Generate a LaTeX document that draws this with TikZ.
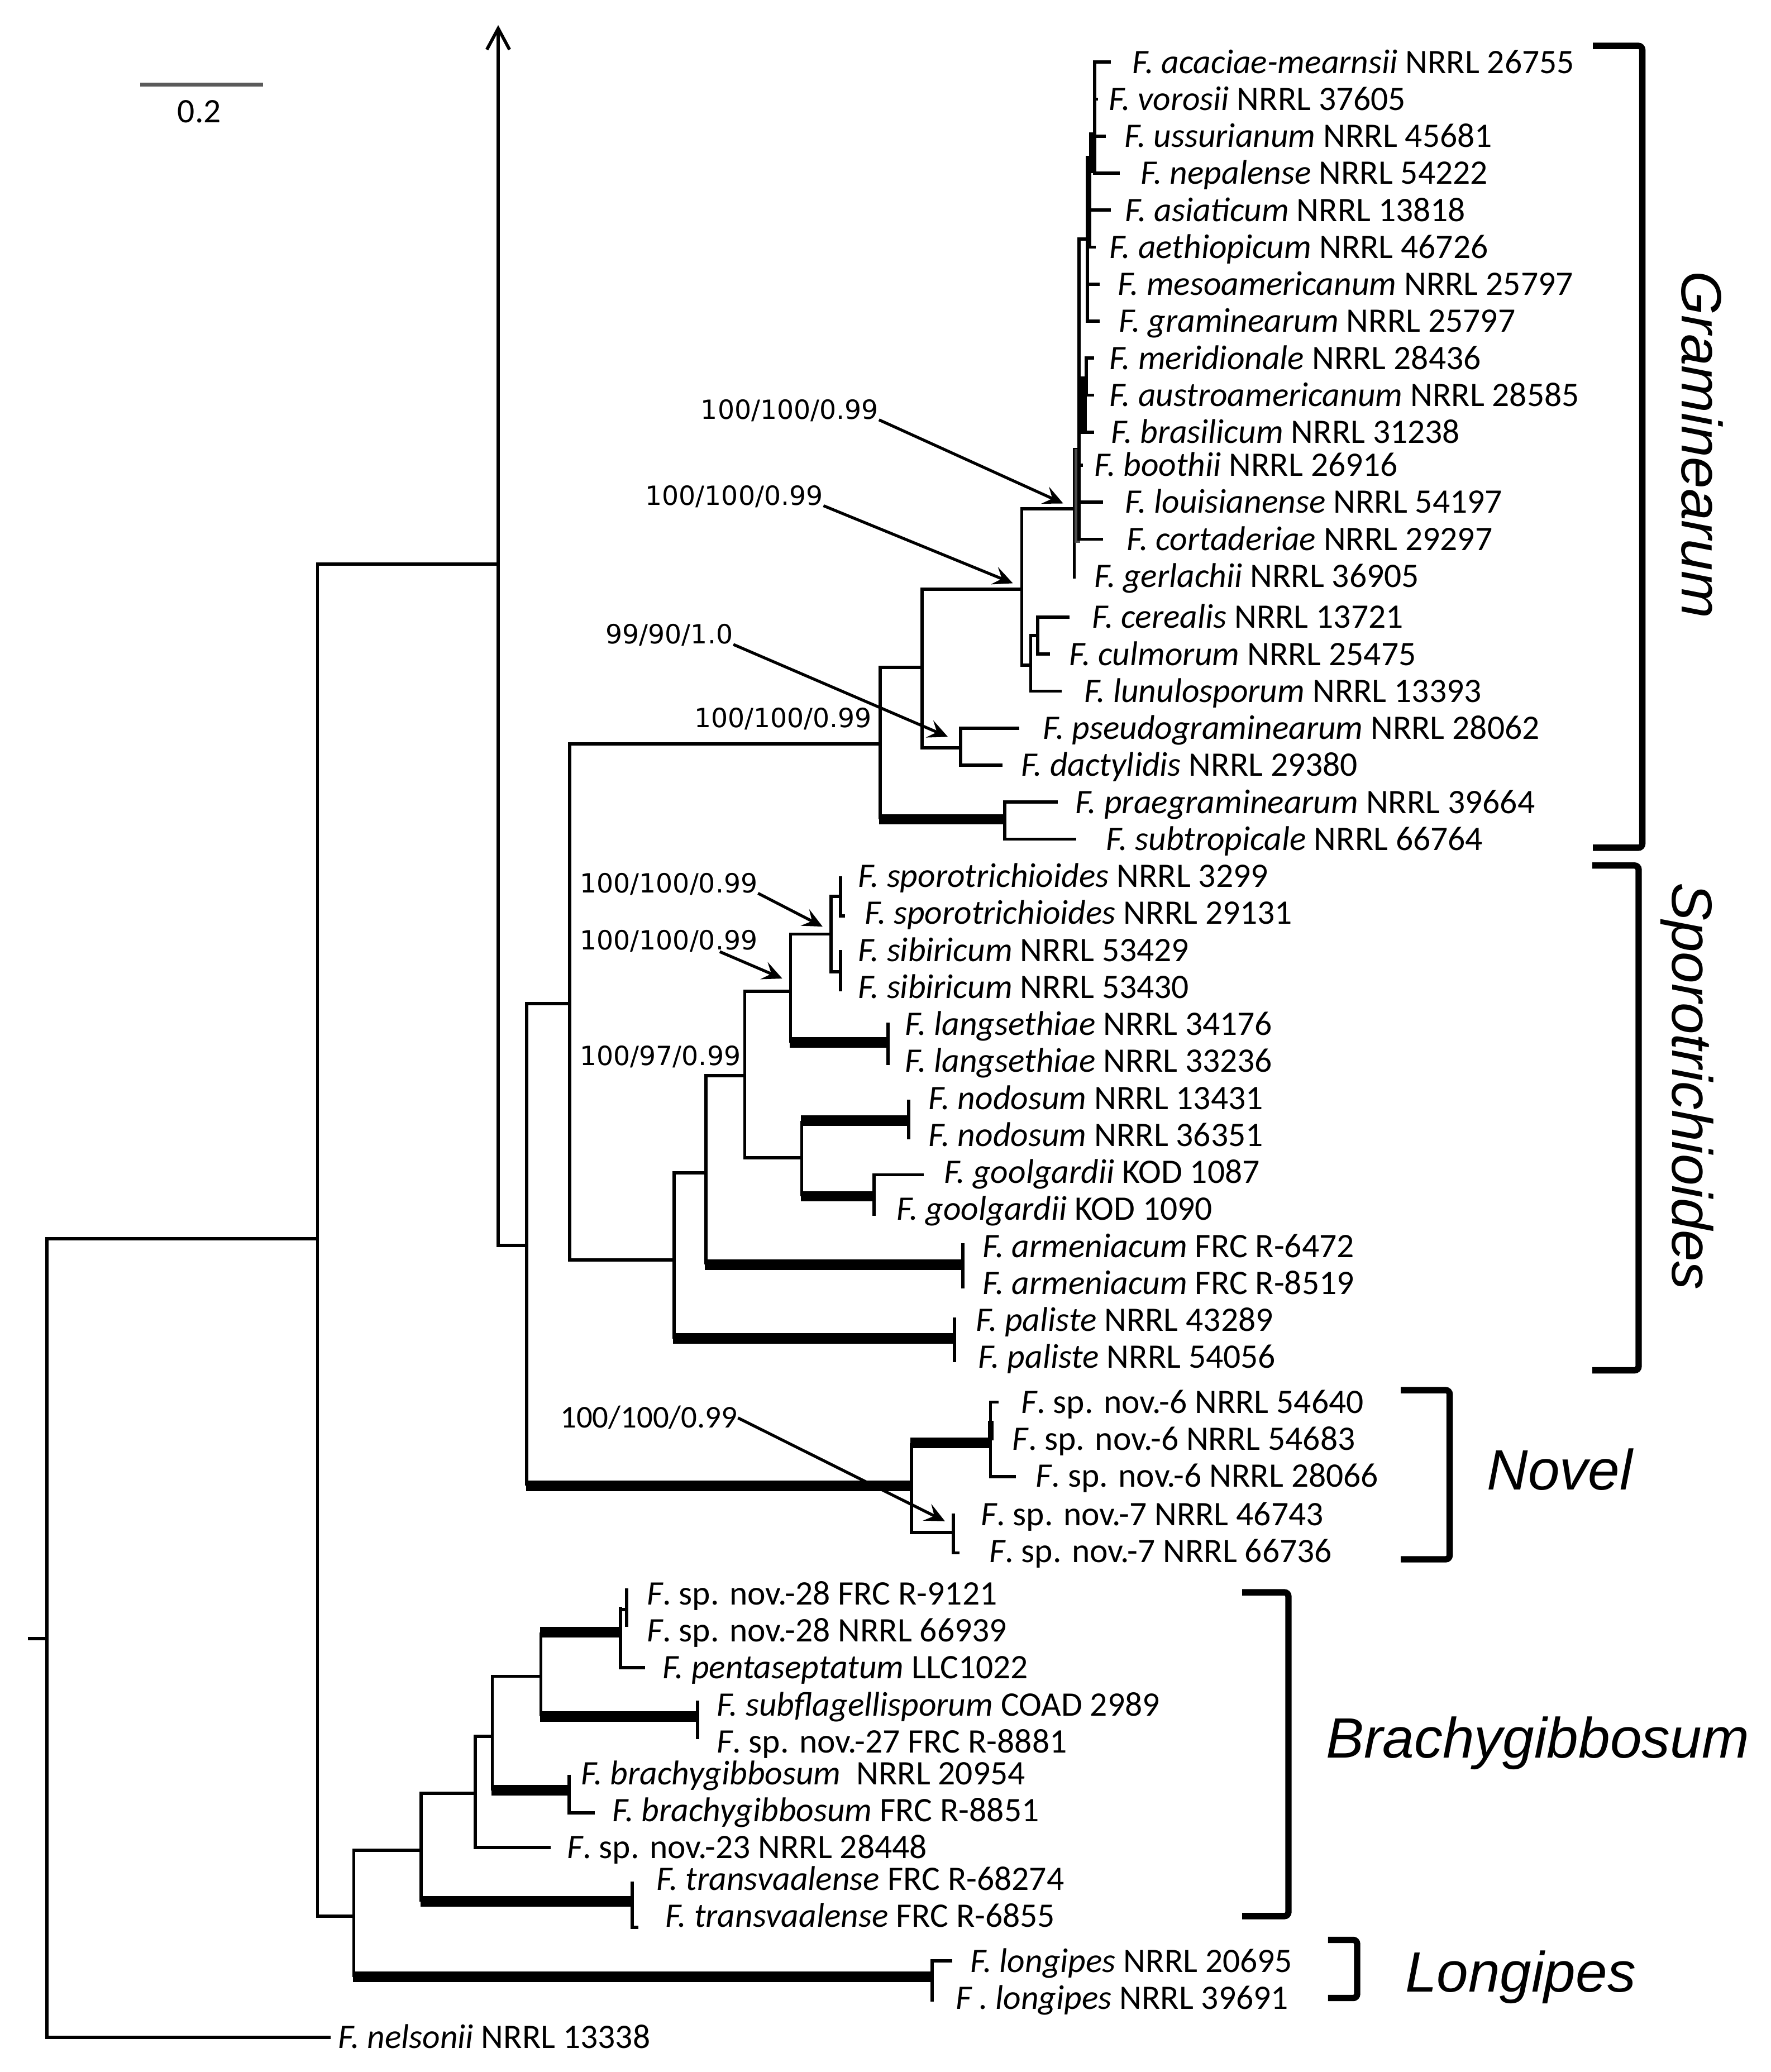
\documentclass[tikz,border=0pt]{standalone}
\usepackage{fontspec}
\setmainfont{Carlito}
\newfontfamily\supfont{DejaVu Sans}
\newfontfamily\cladefont{Liberation Sans}
\usepackage{tikz}
\usetikzlibrary{arrows.meta}

\definecolor{scalegray}{RGB}{90,90,90}
\tikzset{
  br/.style={line width=1.2pt},
  thk/.style={line width=4pt},
  brk/.style={line width=2.4pt, rounded corners=1.5pt},
  leaf/.style={anchor=west, inner sep=0pt, text height=8.4pt, text depth=0pt, font=\fontsize{13}{15}\selectfont},
  supp/.style={anchor=west, inner sep=0pt, text height=7.3pt, text depth=0pt, font=\supfont\fontsize{10}{12}\selectfont},
  suppnov/.style={anchor=west, inner sep=0pt, text height=7.6pt, text depth=0pt, font=\fontsize{12}{14}\selectfont},
  sarr/.style={line width=1.1pt, -{Stealth[length=7.5pt,width=7pt,inset=3pt]}},
  clade/.style={inner sep=0pt, text height=15.4pt, text depth=0pt, font=\cladefont\itshape\fontsize{21.5}{24}\selectfont},
}

\begin{document}
\begin{tikzpicture}[x=0.5pt,y=0.5pt,yscale=-1,xscale=1]
\useasboundingbox (0,0) rectangle (1340,1568);

% Scale bar
\draw [line width=1.4pt, color=scalegray] (106,64) -- (199,64);
\draw (150.8,84.5) node [anchor=center, inner sep=0pt, text height=8.4pt, text depth=0pt, font=\fontsize{13}{15}\selectfont] (scl) {0.2};

% Root and backbone
\draw [br] (21,1240) -- (35.6,1240);
\draw [br] (240.3,937.4) -- (35.6,937.4) -- (35.6,1541.8) -- (250,1541.8);
\draw [br] (377,427) -- (240.3,427) -- (240.3,1450.2) -- (267.8,1450.2);
\draw [br, -{Straight Barb[length=8pt,width=8.6pt]}] (398.6,942.5) -- (377,942.5) -- (377,19);
\draw [br] (431.1,759.5) -- (398.6,759.5) -- (398.6,1124.4);
\draw [thk] (398,1124.4) -- (689.7,1124.4);
\draw [br] (666,563) -- (431.1,563) -- (431.1,953.4) -- (510,953.4);

% Graminearum clade
\draw [br] (697.8,505) -- (666,505) -- (666,620);
\draw [thk] (665.4,620) -- (760.4,620);
\draw [br] (800.3,607) -- (760.4,607) -- (760.4,635) -- (814.4,635);
\draw [br] (773.2,446) -- (697.8,446) -- (697.8,566) -- (727,566);
\draw [br] (771.4,551) -- (727,551) -- (727,579) -- (758.8,579);
\draw [br] (813,385) -- (773.2,385) -- (773.2,503.3) -- (780,503.3);
\draw [br] (785.3,481) -- (780,481) -- (780,523) -- (803.4,523);
\draw [br] (809.5,467) -- (785.3,467) -- (785.3,495) -- (794.4,495);
% upper Graminearum subclade
\draw [br] (840.5,47) -- (828.5,47) -- (828.5,131) -- (847.5,131);
\draw [br] (828.5,75) -- (831,75);
\draw [br] (828.5,103) -- (837,103);
\fill (824,100) rectangle (828.5,131);
\fill (821.5,118) rectangle (825.7,187);
\draw [br] (825,159) -- (840.5,159);
\draw [br] (829.2,187) -- (822.9,187) -- (822.9,243) -- (832,243);
\draw [br] (822.9,215) -- (832,215);
\draw [br] (822.9,181) -- (816.5,181) -- (816.5,340) -- (813,340) -- (813,438);
\draw [br] (827.8,271) -- (822,271) -- (822,299) -- (827.8,299);
\fill (817,285) rectangle (822.5,327);
\draw [br] (816.5,327) -- (827.8,327);
\fill [black!70] (813,340) rectangle (817.5,411);
\draw [br] (816.5,340) -- (816.5,408) -- (834.8,408);
\draw [br] (816.5,352) -- (819.3,352);
\draw [br] (816.5,380) -- (834.8,380);

% Sporotrichioides clade
\draw [br] (534.1,887.5) -- (510,887.5) -- (510,1013);
\draw [thk] (509.4,1013) -- (722.4,1013);
\draw [br] (722.4,997) -- (722.4,1031);
\draw [br] (563.6,814) -- (534.1,814) -- (534.1,957);
\draw [thk] (533.5,957) -- (728.7,957);
\draw [br] (728.7,941) -- (728.7,975);
\draw [br] (598.3,750.2) -- (563.6,750.2) -- (563.6,876.1) -- (606.7,876.1);
\draw [br] (628.8,706.8) -- (598.3,706.8) -- (598.3,789);
\draw [thk] (597.7,789) -- (671.9,789);
\draw [br] (671.9,774) -- (671.9,806);
\draw [br] (636.1,678.4) -- (628.8,678.4) -- (628.8,735.4) -- (636.1,735.4);
\draw [br] (636.1,663) -- (636.1,693) -- (639.5,693);
\draw [br] (636.1,719) -- (636.1,750);
\draw [br] (606.7,848.2) -- (606.7,905.3);
\draw [thk] (606.1,848.2) -- (687.7,848.2);
\draw [br] (687.7,832) -- (687.7,862);
\draw [thk] (606.1,905.3) -- (661.4,905.3);
\draw [br] (699.2,889) -- (661.4,889) -- (661.4,920);

% Novel clade
\draw [br] (689.7,1092) -- (689.7,1159.6) -- (721.4,1159.6);
\draw [thk] (689.1,1092) -- (749.6,1092);
\draw [br] (755.8,1061) -- (749.6,1061) -- (749.6,1117.4) -- (768.6,1117.4);
\fill (747.8,1075) rectangle (752,1090);
\draw [br] (721.4,1145.5) -- (721.4,1175.1) -- (726,1175.1);

% Brachygibbosum and Longipes clades
\draw [br] (318.7,1400.1) -- (267.8,1400.1) -- (267.8,1496);
\draw [thk] (267.2,1496) -- (705.9,1496);
\draw [br] (720.7,1484) -- (705.4,1484) -- (705.4,1514.7);
\draw [br] (359.6,1357) -- (318.7,1357) -- (318.7,1439);
\draw [thk] (318.1,1439) -- (478.3,1439);
\draw [br] (478.3,1424) -- (478.3,1458.4) -- (483,1458.4);
\draw [br] (372.6,1313.9) -- (359.6,1313.9) -- (359.6,1398) -- (416.8,1398);
\draw [br] (409.3,1268.6) -- (372.6,1268.6) -- (372.6,1354.9);
\draw [thk] (372,1354.9) -- (430.8,1354.9);
\draw [br] (430.8,1343) -- (430.8,1372) -- (450.2,1372);
\draw [br] (409.3,1235.2) -- (409.3,1298.8);
\draw [thk] (408.7,1235.2) -- (469.6,1235.2);
\draw [thk] (408.7,1298.8) -- (527.9,1298.8);
\draw [br] (527.9,1286.9) -- (527.9,1316.1);
\draw [br] (469.6,1216) -- (469.6,1262) -- (488,1262);
\draw [br] (469.6,1218) -- (474.2,1218);
\draw [br] (474.2,1202) -- (474.2,1231);

% Brackets
\draw [brk] (1205.4,34.7) -- (1242.8,34.7) -- (1242.8,641.5) -- (1205.4,641.5);
\draw [brk] (1205,655) -- (1240,655) -- (1240,1037) -- (1205,1037);
\draw [brk] (1060,1052) -- (1097,1052) -- (1097,1180) -- (1060,1180);
\draw [brk] (940,1205) -- (975,1205) -- (975,1450) -- (940,1450);
\draw [brk] (1005,1468) -- (1027,1468) -- (1027,1512) -- (1005,1512);

% Clade names
\draw (1288,336.5) node [clade, rotate=-90] (cgram) {Graminearum};
\draw (1281,822) node [clade, rotate=-90] (cspor) {Sporotrichioides};
\draw (1125,1112) node [clade, anchor=west] (cnov) {Novel};
\draw (1003,1315) node [clade, anchor=west] (cbra) {Brachygibbosum};
\draw (1063,1492) node [clade, anchor=west] (clon) {Longipes};

% Support values
\draw (530,310) node [supp] (gs1) {100/100/0.99};
\draw (488,375) node [supp] (gs2) {100/100/0.99};
\draw (458,480) node [supp] (gs3) {99/90/1.0};
\draw (525,543) node [supp] (gs4) {100/100/0.99};
\draw (438.5,668.3) node [supp] (ss1) {100/100/0.99};
\draw (438.5,711.4) node [supp] (ss2) {100/100/0.99};
\draw (438.5,798.8) node [supp] (ss3) {100/97/0.99};
\draw (423.6,1073) node [suppnov] (ns1) {100/100/0.99};
\coordinate (gt1) at (804.6,381);
\coordinate (gt2) at (766.5,441.4);
\coordinate (gt3) at (717.3,557.6);
\coordinate (st1) at (622.5,701.2);
\coordinate (sa2) at (544.7,720.2);
\coordinate (st2) at (592,740.5);
\coordinate (nt1) at (715.1,1151.2);
\draw [sarr] (gs1.south east) -- (gt1);
\draw [sarr] (gs2.south east) -- (gt2);
\draw [sarr] (gs3.south east) -- (gt3);
\draw [sarr] (ss1.south east) -- (st1);
\draw [sarr] (sa2) -- (st2);
\draw [sarr] (ns1.east) -- (nt1);

% Text Node -- taxa
\draw (856.7,47) node [leaf] (acac) {\textit{F. acaciae-mearnsii} NRRL 26755};
\draw (838.7,75) node [leaf] (voro) {\textit{F. vorosii} NRRL 37605};
\draw (850.7,103) node [leaf] (ussu) {\textit{F. ussurianum} NRRL 45681};
\draw (863,131) node [leaf] (nepa) {\textit{F. nepalense} NRRL 54222};
\draw (851,159) node [leaf] (asia) {\textit{F. asiaticum} NRRL 13818};
\draw (839,187) node [leaf] (aeth) {\textit{F. aethiopicum} NRRL 46726};
\draw (845.4,215) node [leaf] (meso) {\textit{F. mesoamericanum} NRRL 25797};
\draw (846.5,243) node [leaf] (gram) {\textit{F. graminearum} NRRL 25797};
\draw (839,271) node [leaf] (meri) {\textit{F. meridionale} NRRL 28436};
\draw (839,299) node [leaf] (aust) {\textit{F. austroamericanum} NRRL 28585};
\draw (840.4,327) node [leaf] (bras) {\textit{F. brasilicum} NRRL 31238};
\draw (827.8,352) node [leaf] (boot) {\textit{F. boothii} NRRL 26916};
\draw (851,380) node [leaf] (loui) {\textit{F. louisianense} NRRL 54197};
\draw (852.4,408) node [leaf] (cort) {\textit{F. cortaderiae} NRRL 29297};
\draw (827.7,436) node [leaf] (gerl) {\textit{F. gerlachii} NRRL 36905};
\draw (826.1,467) node [leaf] (cere) {\textit{F. cerealis} NRRL 13721};
\draw (808.7,495) node [leaf] (culm) {\textit{F. culmorum} NRRL 25475};
\draw (820,523) node [leaf] (lunu) {\textit{F. lunulosporum} NRRL 13393};
\draw (789,551) node [leaf] (pseu) {\textit{F. pseudograminearum} NRRL 28062};
\draw (772.2,579) node [leaf] (dact) {\textit{F. dactylidis} NRRL 29380};
\draw (813.3,607) node [leaf] (prae) {\textit{F. praegraminearum} NRRL 39664};
\draw (836.7,635) node [leaf] (subt) {\textit{F. subtropicale} NRRL 66764};
\draw (648.8,663) node [leaf] (spor1) {\textit{F. sporotrichioides} NRRL 3299};
\draw (654,691) node [leaf] (spor2) {\textit{F. sporotrichioides} NRRL 29131};
\draw (648.8,719) node [leaf] (sibi1) {\textit{F. sibiricum} NRRL 53429};
\draw (648.8,747) node [leaf] (sibi2) {\textit{F. sibiricum} NRRL 53430};
\draw (684.5,775) node [leaf] (lang1) {\textit{F. langsethiae} NRRL 34176};
\draw (684.5,803) node [leaf] (lang2) {\textit{F. langsethiae} NRRL 33236};
\draw (702.4,831) node [leaf] (nodo1) {\textit{F. nodosum} NRRL 13431};
\draw (702.4,859) node [leaf] (nodo2) {\textit{F. nodosum} NRRL 36351};
\draw (714,887) node [leaf] (gool1) {\textit{F. goolgardii} KOD 1087};
\draw (678.2,915) node [leaf] (gool2) {\textit{F. goolgardii} KOD 1090};
\draw (743.4,943) node [leaf] (arme1) {\textit{F. armeniacum} FRC R-6472};
\draw (743.4,971) node [leaf] (arme2) {\textit{F. armeniacum} FRC R-8519};
\draw (738.1,999) node [leaf] (pali1) {\textit{F. paliste} NRRL 43289};
\draw (740,1027) node [leaf] (pali2) {\textit{F. paliste} NRRL 54056};
\draw (772.2,1061) node [leaf] (nov6a) {\textit{F}. sp. nov.-6 NRRL 54640};
\draw (765.8,1089) node [leaf] (nov6b) {\textit{F}. sp. nov.-6 NRRL 54683};
\draw (783.4,1117) node [leaf] (nov6c) {\textit{F}. sp. nov.-6 NRRL 28066};
\draw (741.8,1146) node [leaf] (nov7a) {\textit{F}. sp. nov.-7 NRRL 46743};
\draw (748.2,1174) node [leaf] (nov7b) {\textit{F}. sp. nov.-7 NRRL 66736};
\draw (489.1,1206) node [leaf] (nov28a) {\textit{F}. sp. nov.-28 FRC R-9121};
\draw (489.1,1234) node [leaf] (nov28b) {\textit{F}. sp. nov.-28 NRRL 66939};
\draw (500.9,1262) node [leaf] (pent) {\textit{F. pentaseptatum} LLC1022};
\draw (541.9,1290) node [leaf] (subf) {\textit{F. subflagellisporum} COAD 2989};
\draw (541.9,1318) node [leaf] (nov27) {\textit{F}. sp. nov.-27 FRC R-8881};
\draw (439.5,1342) node [leaf] (brac1) {\textit{F. brachygibbosum}\ \ NRRL 20954};
\draw (463.2,1370) node [leaf] (brac2) {\textit{F. brachygibbosum} FRC R-8851};
\draw (428.6,1398) node [leaf] (nov23) {\textit{F}. sp. nov.-23 NRRL 28448};
\draw (496.6,1422) node [leaf] (tran1) {\textit{F. transvaalense} FRC R-68274};
\draw (503,1450) node [leaf] (tran2) {\textit{F. transvaalense} FRC R-6855};
\draw (734.1,1484) node [leaf] (long1) {\textit{F. longipes} NRRL 20695};
\draw (722.8,1512) node [leaf] (long2) {\textit{F . longipes} NRRL 39691};
\draw (255.5,1541.8) node [leaf] (nels) {\textit{F. nelsonii} NRRL 13338};

\end{tikzpicture}
\end{document}
